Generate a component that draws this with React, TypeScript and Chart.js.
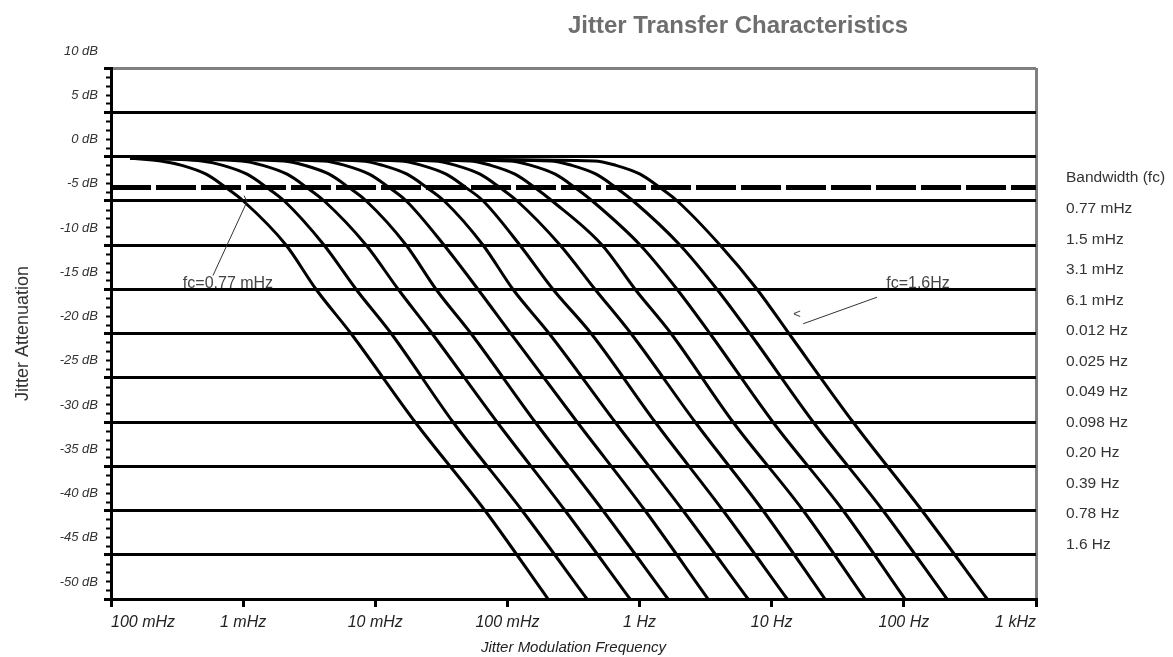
import React, { useEffect, useRef } from 'react';
import { Chart, registerables } from 'chart.js';

Chart.register(...registerables);

const FONT = '"Liberation Sans", Arial, Helvetica, sans-serif';

// Legend entries (bandwidth of each curve)
const bandwidthLabels = [
  '0.77 mHz', '1.5 mHz', '3.1 mHz', '6.1 mHz', '0.012 Hz', '0.025 Hz',
  '0.049 Hz', '0.098 Hz', '0.20 Hz', '0.39 Hz', '0.78 Hz', '1.6 Hz',
];

// Attenuation levels (dB) at which each curve's frequency was read
const attenuationLevels = [-0.2, -0.5, -1, -2, -3.5, -5, -10, -15, -20, -30, -40, -50];

// Frequencies (Hz) of each curve at the levels above
const freqFc077mHz = [0.00014, 0.000238, 0.000344, 0.000525, 0.000739, 0.000998, 0.00211, 0.00356, 0.00655, 0.0200, 0.0676, 0.203];
const freqFc15mHz = [0.00014, 0.000486, 0.000703, 0.00107, 0.00151, 0.00204, 0.00409, 0.00715, 0.0132, 0.0387, 0.129, 0.400];
const freqFc31mHz = [0.00014, 0.000974, 0.00141, 0.00215, 0.00303, 0.00409, 0.00851, 0.0149, 0.0269, 0.0834, 0.273, 0.847];
const freqFc61mHz = [0.00014, 0.00203, 0.00293, 0.00448, 0.00630, 0.00851, 0.0171, 0.0288, 0.0530, 0.162, 0.528, 1.64];
const freqFc0012Hz = [0.00014, 0.00407, 0.0059, 0.0090, 0.0127, 0.0171, 0.0331, 0.0598, 0.106, 0.337, 1.10, 3.30];
const freqFc0025Hz = [0.00014, 0.00788, 0.0114, 0.0174, 0.0245, 0.0331, 0.0653, 0.110, 0.207, 0.652, 2.13, 6.62];
const freqFc0049Hz = [0.00014, 0.0155, 0.0225, 0.0344, 0.0484, 0.0653, 0.124, 0.221, 0.430, 1.31, 4.28, 13.1];
const freqFc0098Hz = [0.00014, 0.0281, 0.0407, 0.0621, 0.0874, 0.118, 0.250, 0.460, 0.861, 2.63, 8.59, 25.3];
const freqFc020Hz = [0.00014, 0.0517, 0.0748, 0.114, 0.161, 0.217, 0.520, 0.925, 1.73, 5.09, 17.3, 50.8];
const freqFc039Hz = [0.00014, 0.104, 0.151, 0.230, 0.324, 0.437, 1.01, 1.92, 3.41, 10.2, 34.7, 102];
const freqFc078Hz = [0.00014, 0.212, 0.307, 0.469, 0.660, 0.891, 2.02, 3.85, 6.85, 20.6, 69.5, 212];
const freqFc16Hz = [0.00014, 0.457, 0.662, 1.01, 1.42, 1.92, 4.06, 7.74, 13.5, 41.2, 137, 427];

const curveFrequencies = [
  freqFc077mHz, freqFc15mHz, freqFc31mHz, freqFc61mHz, freqFc0012Hz, freqFc0025Hz,
  freqFc0049Hz, freqFc0098Hz, freqFc020Hz, freqFc039Hz, freqFc078Hz, freqFc16Hz,
];

// Bandwidth (-3 dB) reference line
const bandwidthLineFreqs = [0.0001, 1000];
const bandwidthLineDb = [-3.5, -3.5];

// Axis ticks
const xTickValues = [0.0001, 0.001, 0.01, 0.1, 1, 10, 100, 1000];
const xTickLabels = ['100 mHz', '1 mHz', '10 mHz', '100 mHz', '1 Hz', '10 Hz', '100 Hz', '1 kHz'];
const yTickLabels = ['-50 dB', '-45 dB', '-40 dB', '-35 dB', '-30 dB', '-25 dB', '-20 dB', '-15 dB', '-10 dB', '-5 dB', '0 dB', '5 dB', '10 dB'];

// Annotations (data units)
const annotationLabels = ['fc=0.77 mHz', 'fc=1.6Hz'];
const annotationLabelFreqs = [0.000768, 128];
const annotationLabelDb = [-14.35, -14.35];
const leaderFromFreqs = [0.000591, 62.7];
const leaderFromDb = [-13.45, -15.9];
const leaderToFreqs = [0.00107, 17.3];
const leaderToDb = [-5.1, -18.9];

const overlayPlugin = {
  id: 'overlay',
  afterDraw(chart: any) {
    const { ctx, chartArea, scales } = chart;
    const xs = scales.x;
    const ys = scales.y;
    ctx.save();

    // minor ticks on the y axis (every 1 dB)
    ctx.strokeStyle = '#000';
    ctx.lineWidth = 2;
    for (let v = ys.min; v <= ys.max; v += 1) {
      if (v % 5 === 0) continue;
      const py = Math.round(ys.getPixelForValue(v)) + 0.5;
      ctx.beginPath();
      ctx.moveTo(chartArea.left - 5, py);
      ctx.lineTo(chartArea.left, py);
      ctx.stroke();
    }

    // chart title
    ctx.fillStyle = '#6e6e6e';
    ctx.font = `bold 24px ${FONT}`;
    ctx.textAlign = 'center';
    ctx.textBaseline = 'middle';
    ctx.fillText('Jitter Transfer Characteristics', 738, 26);

    // legend block
    ctx.fillStyle = '#333';
    ctx.font = `15.5px ${FONT}`;
    ctx.textAlign = 'left';
    const lx = chartArea.right + 30;
    ctx.fillText('Bandwidth (fc)', lx, 178);
    bandwidthLabels.forEach((t, i) => ctx.fillText(t, lx, 209 + i * 30.5));

    // annotations
    ctx.strokeStyle = '#333';
    ctx.lineWidth = 1;
    annotationLabels.forEach((t, i) => {
      ctx.fillStyle = '#444';
      ctx.font = `16px ${FONT}`;
      ctx.textAlign = 'center';
      ctx.fillText(t, xs.getPixelForValue(annotationLabelFreqs[i]), ys.getPixelForValue(annotationLabelDb[i]));
      const x1 = xs.getPixelForValue(leaderFromFreqs[i]);
      const y1 = ys.getPixelForValue(leaderFromDb[i]);
      const x2 = xs.getPixelForValue(leaderToFreqs[i]);
      const y2 = ys.getPixelForValue(leaderToDb[i]);
      ctx.beginPath();
      ctx.moveTo(x1, y1);
      ctx.lineTo(x2, y2);
      ctx.stroke();
      if (i === 0) {
        ctx.beginPath();
        ctx.moveTo(x2, y2);
        ctx.lineTo(x2 - 3, y2 - 6);
        ctx.stroke();
      } else {
        ctx.font = `13px ${FONT}`;
        ctx.fillText('<', x2 - 6, y2 - 9);
      }
    });

    ctx.restore();
  },
};

export default function App() {
  const canvasRef = useRef<HTMLCanvasElement | null>(null);

  useEffect(() => {
    if (!canvasRef.current) return;
    Chart.defaults.font.family = FONT;

    const datasets: any[] = [
      {
        label: 'Bandwidth',
        data: bandwidthLineFreqs.map((f, i) => ({ x: f, y: bandwidthLineDb[i] })),
        borderColor: '#000',
        borderWidth: 5,
        borderDash: [40, 5],
        borderCapStyle: 'butt',
        pointRadius: 0,
        fill: false,
      },
      ...curveFrequencies.map((freqs, k) => ({
        label: bandwidthLabels[k],
        data: freqs.map((f, i) => ({ x: f, y: attenuationLevels[i] })),
        borderColor: '#000',
        borderWidth: 3,
        pointRadius: 0,
        fill: false,
        cubicInterpolationMode: 'monotone',
      })),
    ];

    const chart = new Chart(canvasRef.current, {
      type: 'line',
      data: { datasets },
      plugins: [overlayPlugin],
      options: {
        animation: false,
        responsive: false,
        events: [],
        layout: { padding: { top: 68, right: 137, left: 0, bottom: 0 } },
        plugins: {
          legend: { display: false },
          tooltip: { enabled: false },
          title: { display: false },
        },
        scales: {
          x: {
            type: 'logarithmic',
            min: 0.0001,
            max: 1000,
            afterBuildTicks: (s: any) => {
              s.ticks = xTickValues.map((v) => ({ value: v }));
            },
            afterFit: (s: any) => {
              s.height = 58;
            },
            ticks: {
              autoSkip: false,
              maxRotation: 0,
              minRotation: 0,
              align: 'inner',
              padding: 6,
              color: '#222',
              font: { size: 16, style: 'italic', family: FONT },
              callback: (_v: any, i: number) => xTickLabels[i],
            },
            grid: {
              color: (c: any) => (c.tick && c.tick.value === 1000 ? '#808080' : 'rgba(0,0,0,0)'),
              lineWidth: 3,
              tickColor: '#000',
              tickLength: 8,
              tickWidth: 3,
            },
            border: { color: '#000', width: 3 },
            title: {
              display: true,
              text: 'Jitter Modulation Frequency',
              color: '#222',
              font: { size: 15, style: 'italic', family: FONT },
              padding: { top: 0, bottom: 0 },
            },
          },
          y: {
            type: 'linear',
            min: -50,
            max: 10,
            afterFit: (s: any) => {
              s.width = 111;
            },
            ticks: {
              stepSize: 5,
              autoSkip: false,
              labelOffset: -17,
              padding: 6,
              color: '#333',
              font: { size: 13, style: 'italic', family: FONT },
              callback: (_v: any, i: number) => yTickLabels[i],
            },
            grid: {
              color: (c: any) => (c.tick && c.tick.value === 10 ? '#808080' : '#000'),
              lineWidth: 3,
              tickColor: '#000',
              tickLength: 7,
            },
            border: { color: '#000', width: 3 },
            title: {
              display: true,
              text: 'Jitter Attenuation',
              color: '#333',
              font: { size: 18, family: FONT },
              padding: { top: 12, bottom: 0 },
            },
          },
        },
      } as any,
    });

    return () => chart.destroy();
  }, []);

  return (
    <div style={{ position: 'absolute', left: 0, top: 0, width: 1173, height: 657, background: '#fff' }}>
      <canvas ref={canvasRef} width={1173} height={657} style={{ display: 'block' }} />
    </div>
  );
}
